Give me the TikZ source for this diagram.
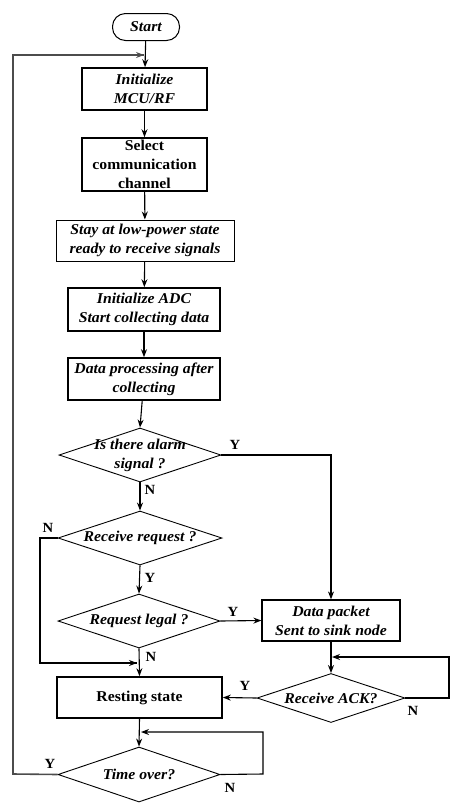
\documentclass[tikz,border=0pt]{standalone}
\usepackage{fontspec}
\setmainfont{Liberation Serif}[FakeStretch=1.05]
\usetikzlibrary{shapes.geometric,arrows.meta,calc}
\begin{document}
\begin{tikzpicture}[x=1pt,y=-1pt,
  every node/.style={font=\fontsize{15}{19}\selectfont\bfseries\itshape, align=center, inner sep=0pt},
  procbox/.style={draw, line width=1.6pt, minimum width=#1},
  decision/.style={draw, diamond, line width=0.9pt, minimum width=162pt, minimum height=54pt, label={center:#1}},
  lbl/.style={font=\fontsize{14}{16}\selectfont\bfseries},
  up/.style={font=\fontsize{15}{19}\selectfont\bfseries},
  flow/.style={line width=1.1pt, -{Stealth[length=8pt,width=6pt]}},
  line/.style={line width=1.1pt},
  loopline/.style={line width=1.6pt, draw=black!70}
]
\useasboundingbox (0,0) rectangle (462,807);
\node[draw, line width=1pt, rounded corners=13pt, minimum width=67pt, minimum height=27pt] (start) at (146,27) {Start};
\node[procbox=125pt, minimum height=42pt] (init) at (144.5,89) {Initialize\\MCU/RF};
\node[procbox=125pt, minimum height=53pt, up] (sel) at (144.5,164.5) {Select\\communication\\channel};
\node[procbox=178pt, minimum height=41pt, line width=1pt] (stay) at (145,240.5) {Stay at low-power state\\ready to receive signals};
\node[procbox=152pt, minimum height=43pt] (adc) at (144,309.5) {Initialize ADC\\Start collecting data};
\node[procbox=152pt, minimum height=42pt] (proc) at (144,379) {Data processing after\\collecting};
\node[decision={Is there alarm\\signal ?}] (alarm) at (140,455) {};
\node[decision={Receive request ?}, minimum width=164pt] (recv) at (140,538) {};
\node[decision={Request legal ?}] (legal) at (139,621) {};
\node[procbox=138pt, minimum height=41pt, line width=1.2pt] (data) at (331,620.5) {Data packet\\Sent to sink node};
\node[procbox=165pt, minimum height=41pt, up] (rest) at (139.5,697.5) {Resting state};
\node[decision={Receive ACK?}, minimum width=148pt, minimum height=49pt] (ack) at (331,698) {};
\node[decision={Time over?}, minimum height=55pt] (time) at (139,774.5) {};

\coordinate (tl) at (13,55);
\coordinate (tj) at (144,55);
\coordinate (bl) at (13,774);
\coordinate (mergeL) at (40,663);
\coordinate (mergeR) at (137,663);
\coordinate (ackR) at (449,698);
\coordinate (ackTop) at (449,657);
\coordinate (ackIn) at (332,657);
\coordinate (timeR) at (263,774);
\coordinate (timeTop) at (263,732);
\coordinate (timeIn) at (141,732);

\draw[flow] (start) -- (init);
\draw[loopline] (time.west) -- (bl) -- (tl) -- (tj);
\draw[flow, draw=black!70] ($(tj)+(-1,0)$) -- (tj);
\draw[flow] (init) -- (sel);
\draw[flow] (sel) -- (stay);
\draw[flow] (stay) -- (adc);
\draw[flow] (adc) -- (proc);
\draw[flow] (proc) -- (alarm.north);
\draw[flow] (alarm.east) -| (data.north);
\draw[flow] (alarm.south) -- (recv.north);
\draw[line] (recv.west) -| (mergeL) -- (mergeR);
\draw[flow] ($(mergeR)+(-8,0)$) -- (mergeR);
\draw[flow] (recv.south) -- (legal.north);
\draw[flow] (legal.east) -- (data.west);
\draw[flow] (legal.south) -- (rest.north);
\draw[flow] (data.south) -- (ack.north);
\draw[flow] (ack.east) -- (ackR) -- (ackTop) -- (ackIn);
\draw[flow] (ack.west) -- (rest.east);
\draw[flow] (rest.south) -- (time.north);
\draw[flow] (time.east) -- (timeR) -- (timeTop) -- (timeIn);

\node[lbl] at (235,445) {Y};
\node[lbl] at (150,490) {N};
\node[lbl] at (48,528) {N};
\node[lbl] at (150,578) {Y};
\node[lbl] at (233,612) {Y};
\node[lbl] at (151,657) {N};
\node[lbl] at (245,686) {Y};
\node[lbl] at (413,711) {N};
\node[lbl] at (50,764) {Y};
\node[lbl] at (230,788) {N};
\end{tikzpicture}
\end{document}
